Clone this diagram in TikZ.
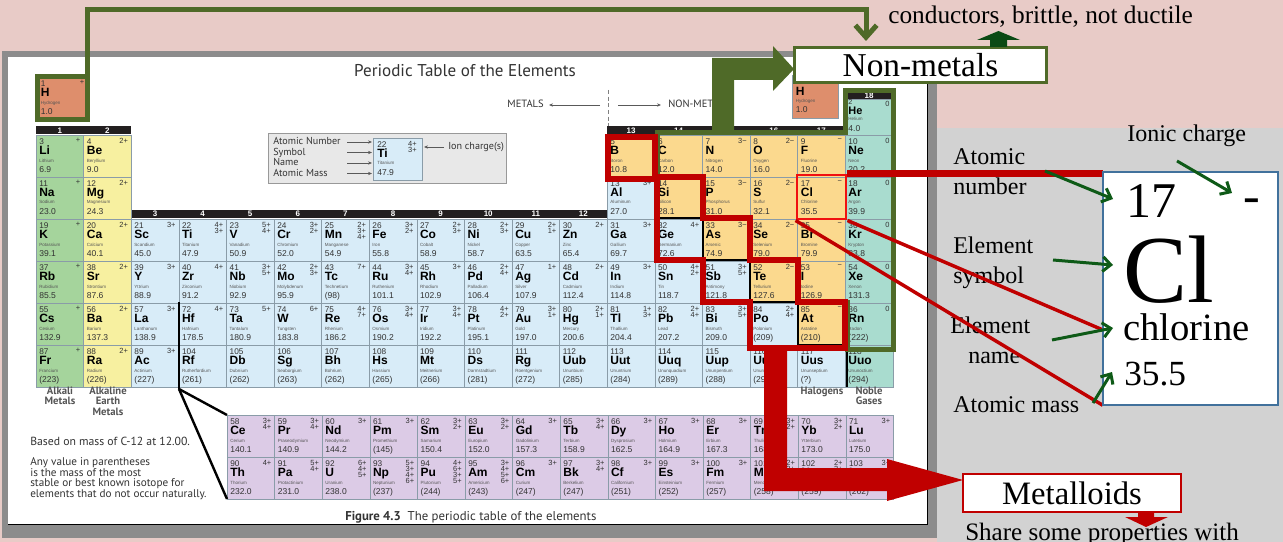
\documentclass[tikz,border=0pt]{standalone}
\usepackage{fontspec}
\setmainfont{Liberation Serif}
\newfontfamily\cellfont{Liberation Sans}
\newfontfamily\bookfont{PT Sans}
\usetikzlibrary{arrows.meta}
\definecolor{pinkbg}{HTML}{E8CBC7}
\definecolor{graybg}{HTML}{D2D2D2}
\definecolor{framegray}{HTML}{8C8C8C}
\definecolor{gA}{HTML}{A5D49C}
\definecolor{gB}{HTML}{F7F0A0}
\definecolor{tm}{HTML}{D8ECF8}
\definecolor{nm}{HTML}{FBD98E}
\definecolor{ng}{HTML}{A9DCCF}
\definecolor{hy}{HTML}{DE8E6C}
\definecolor{ln}{HTML}{DCCBE6}
\definecolor{olive}{HTML}{4F6A28}
\definecolor{dred}{HTML}{C00000}
\definecolor{bred}{HTML}{F01010}
\definecolor{dgreen}{HTML}{0E5A17}
\definecolor{upgreen}{HTML}{0B4A14}
\definecolor{cellline}{HTML}{8A9CA8}
\definecolor{numc}{HTML}{333333}
\definecolor{namc}{HTML}{555555}
\definecolor{hdrc}{HTML}{231F20}
\definecolor{boxblue}{HTML}{41719C}
\definecolor{leggray}{HTML}{E8E8E8}
\tikzset{
 tnum/.style={anchor=base west, inner sep=0, font=\cellfont\fontsize{6.2}{6.2}\selectfont, text=numc},
 tsym/.style={anchor=base west, inner sep=0, font=\cellfont\bfseries\fontsize{9}{9}\selectfont},
 tnam/.style={anchor=base west, inner sep=0, font=\cellfont\fontsize{3.4}{3.4}\selectfont, text=namc},
 tmas/.style={anchor=base west, inner sep=0, font=\cellfont\fontsize{6.4}{6.4}\selectfont, text=numc},
 tchg/.style={anchor=north east, inner sep=0, align=right, font=\cellfont\fontsize{5.6}{4.6}\selectfont, text=numc},
 thdr/.style={inner sep=0, text=white, font=\cellfont\bfseries\fontsize{6}{6}\selectfont},
 book/.style={inner sep=0, text=numc, font=\bookfont\fontsize{7.6}{7.6}\selectfont},
 grp/.style={inner sep=0, align=center, anchor=north, text=namc, font=\bookfont\bfseries\fontsize{8}{7.6}\selectfont},
 rlab/.style={anchor=base west, inner sep=0, font=\fontsize{18}{18}\selectfont},
 garrow/.style={dgreen, line width=2.25pt, -{Straight Barb[length=6pt,width=11pt]}},
 legarrow/.style={gray!70!black, line width=0.5pt, -{Stealth[length=3pt,width=2.5pt]}},
}
\newcommand{\pcell}[9]{%
 \path[fill=#9, draw=cellline, line width=0.4pt] (#1,#2) rectangle ++(#3,42);
 \node[tnum] (e#4n) at ({#1+3},{#2+9.5}) {#4};
 \node[tsym] (e#4s) at ({#1+3},{#2+19.5}) {#5};
 \node[tnam] (e#4m) at ({#1+3},{#2+27}) {#6};
 \node[tmas] (e#4a) at ({#1+3},{#2+37.5}) {#7};
 \node[tchg] (e#4c) at ({#1+#3-3},{#2+3}) {#8};
}
\begin{document}
\begin{tikzpicture}[x=0.75pt,y=-0.75pt]
\useasboundingbox (0,0) rectangle (1283,542);
% backgrounds
\fill[pinkbg] (0,0) rectangle (1283,542);
\fill[graybg] (937,128) rectangle (1283,542);
\fill[framegray] (2,51) rectangle (937,538);
\fill[white] (8,57) rectangle (927,524);
\draw[black, line width=0.6pt] (927,57) -- (927,524) -- (8,524);

% title and metals arrows
\node[inner sep=0, anchor=base, text=numc, font=\bookfont\fontsize{12.8}{12.8}\selectfont] (title) at (465,77) {Periodic Table of the Elements};
\node[book, anchor=base east, font=\bookfont\fontsize{7.9}{7.9}\selectfont] (metals) at (544,108) {METALS};
\node[book, anchor=base west, font=\bookfont\fontsize{7.9}{7.9}\selectfont] (nonmet) at (668,108) {NON-METALS};
\coordinate (mA) at (600,105); \coordinate (mB) at (549,105);
\coordinate (nA) at (618,105); \coordinate (nB) at (661,105);
\draw[legarrow] (mA) -- (mB);
\draw[legarrow] (nA) -- (nB);
\coordinate (dA) at (608,90); \coordinate (dB) at (608,128);
\draw[densely dashed, gray, line width=0.5pt] (dA) -- (dB);

% legend
\path[fill=leggray, draw=gray!80, line width=0.6pt] (268,133) rectangle (506,183);
\node[book, anchor=base west] (lg1) at (273,145) {Atomic Number};
\node[book, anchor=base west] (lg2) at (273,155.5) {Symbol};
\node[book, anchor=base west] (lg3) at (273,166) {Name};
\node[book, anchor=base west] (lg4) at (273,176.5) {Atomic Mass};
\node[book, anchor=base west] (lg5) at (448,150) {Ion charge(s)};
\path[fill=tm, draw=cellline, line width=0.5pt] (373,138) rectangle (422,180);
\node[tnum] (lgn) at (377,147.5) {22};
\node[tsym] (lgs) at (377,157.5) {Ti};
\node[tnam] (lgm) at (377,165) {Titanium};
\node[tmas] (lga) at (377,175.5) {47.9};
\node[tchg] (lgc) at (417,141) {4+\\3+};
\foreach \yy/\nm in {142/a,152.5/b,163/c,173.5/d}{
 \coordinate (lgf\nm) at (347,\yy); \coordinate (lgt\nm) at (372,\yy);
 \draw[legarrow] (lgf\nm) -- (lgt\nm);}
\coordinate (ionA) at (444,147); \coordinate (ionB) at (424,147);
\draw[legarrow] (ionA) -- (ionB);

% headers
\fill[hdrc] (36,126) rectangle (131.2,134.5);
\fill[hdrc] (131.2,210) rectangle (607.2,218);
\fill[hdrc] (607.2,126) rectangle (845.2,134.5);
\fill[hdrc] (845.2,92) rectangle (892.8,99.5);
\foreach \g in {1,2,13,14,15,16,17}{
 \node[thdr] (h\g) at ({36+(\g-0.5)*47.6},130.3) {\g};}
\foreach \g in {3,...,12}{
 \node[thdr] (h\g) at ({36+(\g-0.5)*47.6},214) {\g};}
\node[thdr] (h18) at (869,95.8) {18};

% main table cells
\foreach \g/\p/\n/\s/\nm/\m/\ch/\col in {
1/2/3/Li/Lithium/6.9/+/gA, 2/2/4/Be/Beryllium/9.0/2+/gB,
13/2/5/B/Boron/10.8/{}/nm, 14/2/6/C/Carbon/12.0/{}/nm, 15/2/7/N/Nitrogen/14.0/3−/nm,
16/2/8/O/Oxygen/16.0/2−/nm, 17/2/9/F/Fluorine/19.0/−/nm, 18/2/10/Ne/Neon/20.2/0/ng,
1/3/11/Na/Sodium/23.0/+/gA, 2/3/12/Mg/Magnesium/24.3/2+/gB,
13/3/13/Al/Aluminum/27.0/3+/tm, 14/3/14/Si/Silicon/28.1/{}/nm, 15/3/15/P/Phosphorus/31.0/3−/nm,
16/3/16/S/Sulfur/32.1/2−/nm, 17/3/17/Cl/Chlorine/35.5/−/nm, 18/3/18/Ar/Argon/39.9/0/ng,
1/4/19/K/Potassium/39.1/+/gA, 2/4/20/Ca/Calcium/40.1/2+/gB, 3/4/21/Sc/Scandium/45.0/3+/tm,
4/4/22/Ti/Titanium/47.9/{4+\\3+}/tm, 5/4/23/V/Vanadium/50.9/{5+\\4+}/tm,
6/4/24/Cr/Chromium/52.0/{3+\\2+}/tm, 7/4/25/Mn/Manganese/54.9/{2+\\3+\\4+}/tm,
8/4/26/Fe/Iron/55.8/{3+\\2+}/tm, 9/4/27/Co/Cobalt/58.9/{2+\\3+}/tm,
10/4/28/Ni/Nickel/58.7/{2+\\3+}/tm, 11/4/29/Cu/Copper/63.5/{2+\\1+}/tm,
12/4/30/Zn/Zinc/65.4/2+/tm, 13/4/31/Ga/Gallium/69.7/3+/tm, 14/4/32/Ge/Germanium/72.6/4+/tm,
15/4/33/As/Arsenic/74.9/3−/nm, 16/4/34/Se/Selenium/79.0/2−/nm, 17/4/35/Br/Bromine/79.9/−/nm,
18/4/36/Kr/Krypton/83.8/0/ng,
1/5/37/Rb/Rubidium/85.5/+/gA, 2/5/38/Sr/Strontium/87.6/2+/gB, 3/5/39/Y/Yttrium/88.9/3+/tm,
4/5/40/Zr/Zirconium/91.2/4+/tm, 5/5/41/Nb/Niobium/92.9/{3+\\5+}/tm,
6/5/42/Mo/Molybdenum/95.9/{2+\\3+}/tm, 7/5/43/Tc/Technetium/(98)/7+/tm,
8/5/44/Ru/Ruthenium/101.1/{3+\\4+}/tm, 9/5/45/Rh/Rhodium/102.9/3+/tm,
10/5/46/Pd/Palladium/106.4/{2+\\4+}/tm, 11/5/47/Ag/Silver/107.9/1+/tm,
12/5/48/Cd/Cadmium/112.4/2+/tm, 13/5/49/In/Indium/114.8/3+/tm, 14/5/50/Sn/Tin/118.7/{4+\\2+}/tm,
15/5/51/Sb/Antimony/121.8/{3+\\5+}/tm, 16/5/52/Te/Tellurium/127.6/2−/nm,
17/5/53/I/Iodine/126.9/−/nm, 18/5/54/Xe/Xenon/131.3/0/ng,
1/6/55/Cs/Cesium/132.9/+/gA, 2/6/56/Ba/Barium/137.3/2+/gB, 3/6/57/La/Lanthanum/138.9/3+/tm,
4/6/72/Hf/Hafnium/178.5/4+/tm, 5/6/73/Ta/Tantalum/180.9/5+/tm, 6/6/74/W/Tungsten/183.8/6+/tm,
7/6/75/Re/Rhenium/186.2/{4+\\7+}/tm, 8/6/76/Os/Osmium/190.2/{3+\\4+}/tm,
9/6/77/Ir/Iridium/192.2/{3+\\4+}/tm, 10/6/78/Pt/Platinum/195.1/{4+\\2+}/tm,
11/6/79/Au/Gold/197.0/{3+\\1+}/tm, 12/6/80/Hg/Mercury/200.6/{2+\\1+}/tm,
13/6/81/Tl/Thallium/204.4/{1+\\3+}/tm, 14/6/82/Pb/Lead/207.2/{2+\\4+}/tm,
15/6/83/Bi/Bismuth/209.0/{3+\\5+}/tm, 16/6/84/Po/Polonium/(209)/{2+\\4+}/tm,
17/6/85/At/Astatine/(210)/−/nm, 18/6/86/Rn/Radon/(222)/0/ng,
1/7/87/Fr/Francium/(223)/+/gA, 2/7/88/Ra/Radium/(226)/2+/gB, 3/7/89/Ac/Actinium/(227)/3+/tm,
4/7/104/Rf/Rutherfordium/(261)/{}/tm, 5/7/105/Db/Dubnium/(262)/{}/tm,
6/7/106/Sg/Seaborgium/(263)/{}/tm, 7/7/107/Bh/Bohrium/(262)/{}/tm,
8/7/108/Hs/Hassium/(265)/{}/tm, 9/7/109/Mt/Meitnerium/(266)/{}/tm,
10/7/110/Ds/Darmstadtium/(281)/{}/tm, 11/7/111/Rg/Roentgenium/(272)/{}/tm,
12/7/112/Uub/Ununbium/(285)/{}/tm, 13/7/113/Uut/Ununtrium/(284)/{}/tm,
14/7/114/Uuq/Ununquadium/(289)/{}/tm, 15/7/115/Uup/Ununpentium/(288)/{}/tm,
16/7/116/Uuh/Ununhexium/(292)/{}/tm, 17/7/117/Uus/Ununseptium/(?)/{}/tm,
18/7/118/Uuo/Ununoctium/(294)/{}/ng}{
 \pgfmathsetmacro\xx{36+(\g-1)*47.6}
 \pgfmathsetmacro\yy{135+(\p-2)*42}
 \pcell{\xx}{\yy}{47.6}{\n}{\s}{\nm}{\m}{\ch}{\col}
}

% helium (short cell)
\path[fill=ng, draw=cellline, line width=0.4pt] (845.2,99.5) rectangle (892.8,135);
\node[tnum, font=\cellfont\fontsize{5.4}{5.4}\selectfont] (e2n) at (848.2,105) {2};
\node[tsym, font=\cellfont\bfseries\fontsize{8.2}{8.2}\selectfont] (e2s) at (848.2,114.8) {He};
\node[tnam] (e2m) at (848.2,121) {Helium};
\node[tmas] (e2a) at (848.2,131.5) {4.0};
\node[tchg] (e2c) at (889.8,101) {0};

% hydrogen (left)
\pcell{37.5}{77}{50}{1}{H}{Hydrogen}{1.0}{+}{hy}
% hydrogen (second copy)
\path[fill=hy, draw=cellline, line width=0.4pt] (792,75) rectangle (838,118);
\node[tsym] (hrs) at (795.5,96) {H};
\node[tnam] (hrm) at (795.5,102.5) {Hydrogen};
\node[tmas] (hra) at (795.5,113) {1.0};

% lanthanides and actinides
\foreach \i/\n/\s/\nm/\m/\ch in {
0/58/Ce/Cerium/140.1/{3+\\4+}, 1/59/Pr/Praseodymium/140.9/{3+\\4+}, 2/60/Nd/Neodymium/144.2/3+,
3/61/Pm/Promethium/(145)/3+, 4/62/Sm/Samarium/150.4/{3+\\2+}, 5/63/Eu/Europium/152.0/{3+\\2+},
6/64/Gd/Gadolinium/157.3/3+, 7/65/Tb/Terbium/158.9/{3+\\4+}, 8/66/Dy/Dysprosium/162.5/3+,
9/67/Ho/Holmium/164.9/3+, 10/68/Er/Erbium/167.3/3+, 11/69/Tm/Thulium/168.9/{3+\\2+},
12/70/Yb/Ytterbium/173.0/{3+\\2+}, 13/71/Lu/Lutetium/175.0/3+}{
 \pgfmathsetmacro\xx{227+\i*47.6}
 \pcell{\xx}{415}{47.6}{\n}{\s}{\nm}{\m}{\ch}{ln}
}
\foreach \i/\n/\s/\nm/\m/\ch in {
0/90/Th/Thorium/232.0/4+, 1/91/Pa/Protactinium/231.0/{5+\\4+}, 2/92/U/Uranium/238.0/{6+\\4+\\5+},
3/93/Np/Neptunium/(237)/{5+\\3+\\4+\\6+}, 4/94/Pu/Plutonium/(244)/{4+\\6+\\3+\\5+},
5/95/Am/Americium/(243)/{3+\\4+\\5+\\6+}, 6/96/Cm/Curium/(247)/3+, 7/97/Bk/Berkelium/(247)/{3+\\4+},
8/98/Cf/Californium/(251)/3+, 9/99/Es/Einsteinium/(252)/3+, 10/100/Fm/Fermium/(257)/3+,
11/101/Md/Mendelevium/(258)/{2+\\3+}, 12/102/No/Nobelium/(259)/{2+\\3+}, 13/103/Lr/Lawrencium/(262)/3+}{
 \pgfmathsetmacro\xx{227+\i*47.6}
 \pcell{\xx}{457}{47.6}{\n}{\s}{\nm}{\m}{\ch}{ln}
}

% black lines of the printed table
\coordinate (hfA) at (179,302); \coordinate (hfB) at (179,389);
\coordinate (lnT) at (227,415); \coordinate (lnB) at (227,499);
\draw[black, line width=2pt] (hfA) -- (hfB);
\draw[black, line width=1.8pt] (hfB) -- (lnT);
\draw[black, line width=1.8pt] (hfB) -- (lnB);
\draw[black, line width=1.6pt] (607,177) -- (657,177) -- (657,218) -- (703,218) -- (703,260) -- (750,260) -- (750,302) -- (798,302) -- (798,345) -- (847,345) -- (847,387);

% group labels and notes
\node[grp] (galk) at (60,387) {Alkali\\Metals};
\node[grp] (gear) at (108,387) {Alkaline\\Earth\\Metals};
\node[grp] (ghal) at (822,387) {Halogens};
\node[grp] (gnob) at (869,387) {Noble\\Gases};
\node[book, anchor=base west, font=\bookfont\fontsize{8.8}{8.8}\selectfont] (nt1) at (30,445) {Based on mass of C-12 at 12.00.};
\node[book, anchor=north west, align=left, font=\bookfont\fontsize{8.4}{7.2}\selectfont] (nt2) at (30,457) {Any value in parentheses\\is the mass of the most\\stable or best known isotope for\\elements that do not occur naturally.};
\node[book, anchor=base west, font=\bookfont\fontsize{9.6}{9.6}\selectfont] (fig) at (345,520) {\textbf{Figure 4.3}\ \ The periodic table of the elements};

% right panel labels
\node[rlab] (ionic) at (1127,142) {Ionic charge};
\node[rlab] (atn1) at (953,165) {Atomic};
\node[rlab] (atn2) at (953,195) {number};
\node[rlab] (els1) at (953,253) {Element};
\node[rlab] (els2) at (953,283) {symbol};
\node[rlab] (eln1) at (950,333) {Element};
\node[rlab] (eln2) at (968,363) {name};
\node[rlab] (atm) at (953,412) {Atomic mass};

% green annotations
\draw[olive, line width=3.75pt] (657,133) -- (845,133) -- (845,91) -- (893,91) -- (893,349) -- (847,349) -- (847,302) -- (798,302) -- (798,260) -- (750,260) -- (750,218) -- (703,218) -- (703,177) -- (657,177) -- cycle;
\draw[olive, line width=3.75pt] (37.5,77) rectangle (87.5,120);
\coordinate (hgA) at (87.5,77); \coordinate (hgB) at (87.5,10); \coordinate (hgC) at (866,10); \coordinate (hgD) at (866,41);
\draw[olive, line width=3.75pt, -{Straight Barb[length=9pt,width=16pt]}] (hgA) -- (hgB) -- (hgC) -- (hgD);

% red metalloid outline
\draw[dred, line width=4.5pt] (608,137) rectangle (655,179);
\draw[dred, line width=4.5pt] (657,177) -- (703,177) -- (703,218) -- (750,218) -- (750,260) -- (798,260) -- (798,302) -- (845,302) -- (845,348) -- (750,348) -- (750,302) -- (703,302) -- (703,260) -- (657,260) -- cycle;

% big block arrows
\fill[olive] (712,135) -- (712,58) -- (773,58) -- (773,46) -- (794,69) -- (773,91) -- (773,80) -- (734,80) -- (734,135) -- cycle;
\fill[dred] (764,347) -- (787,347) -- (787,468) -- (887,468) -- (887,459) -- (963,480) -- (887,501) -- (887,491) -- (764,491) -- cycle;

% chlorine callout
\node[draw=bred, line width=2.2pt, minimum width=36.75pt, minimum height=33pt, inner sep=0] (clbox) at (821.5,197) {};
\coordinate (cA) at (1103,330);
\node[minimum width=131.25pt, minimum height=174.75pt, inner sep=0] (bigpos) at (1190.5,288.5) {};
\draw[dred, line width=5pt] (clbox.north east) -- (clbox.north east -| bigpos.west);
\draw[dred, line width=2.6pt] (clbox.south east) -- (cA);
\draw[dred, line width=2.6pt] (clbox.south west) -- (bigpos.south west);
\node[draw=boxblue, fill=white, line width=1.5pt, minimum width=131.25pt, minimum height=174.75pt, inner sep=0] (bigbox) at (1190.5,288.5) {};
\node[anchor=base west, inner sep=0, font=\fontsize{37.5}{37.5}\selectfont] (b17) at (1126,217) {17};
\node[anchor=base west, inner sep=0, font=\fontsize{37.5}{37.5}\selectfont] (bneg) at (1243,212) {-};
\node[anchor=base west, inner sep=0, font=\fontsize{72}{72}\selectfont] (bcl) at (1123,302) {Cl};
\node[anchor=base west, inner sep=0, font=\fontsize{29}{29}\selectfont] (bname) at (1123,340) {chlorine};
\node[anchor=base west, inner sep=0, font=\fontsize{26.5}{26.5}\selectfont] (bmass) at (1124,385) {35.5};
\coordinate (g1a) at (1177,161); \coordinate (g1b) at (1232,193);
\coordinate (g2a) at (1045,171); \coordinate (g2b) at (1113,199);
\coordinate (g3a) at (1053,260); \coordinate (g3b) at (1113,265);
\coordinate (g4a) at (1052,340); \coordinate (g4b) at (1113,328);
\coordinate (g5a) at (1093,403); \coordinate (g5b) at (1112,372);
\draw[garrow] (g1a) -- (g1b);
\draw[garrow] (g2a) -- (g2b);
\draw[garrow] (g3a) -- (g3b);
\draw[garrow] (g4a) -- (g4b);
\draw[garrow] (g5a) -- (g5b);

% Non-metals box
\node[draw=olive, fill=white, line width=2.3pt, minimum width=189pt, minimum height=26pt, inner sep=0, font=\fontsize{25}{25}\selectfont] (nmbox) at (920.5,65) {Non-metals};
\fill[upgreen] (990,47) -- (1007,47) -- (1007,40) -- (1020,40) -- (998.5,31) -- (977,40) -- (990,40) -- cycle;
\node[anchor=base west, inner sep=0, font=\fontsize{19}{19}\selectfont] (cond) at (888,24) {conductors, brittle, not ductile};

% Metalloids box
\node[draw=dred, fill=white, line width=2pt, minimum width=163.5pt, minimum height=28.5pt, inner sep=0, font=\fontsize{24.5}{24.5}\selectfont] (mlbox) at (1072,493) {Metalloids};
\fill[dred] (1138,512) -- (1154,512) -- (1154,517) -- (1168,517) -- (1146,527) -- (1125,517) -- (1138,517) -- cycle;
\node[anchor=base west, inner sep=0, font=\fontsize{18.8}{18.8}\selectfont] (share) at (965,540) {Share some properties with};
\end{tikzpicture}
\end{document}
